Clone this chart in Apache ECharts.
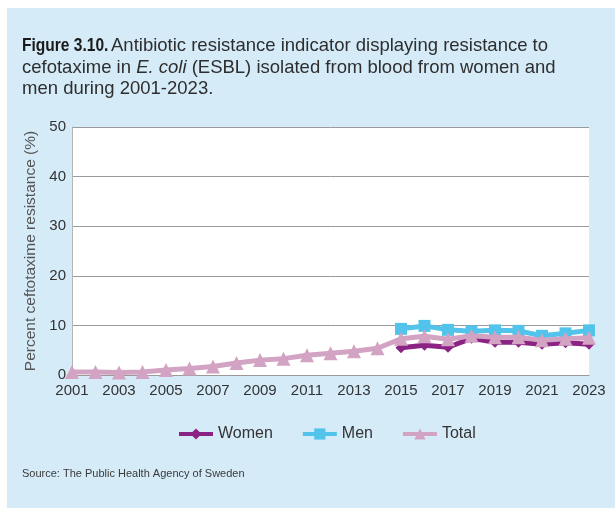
<!DOCTYPE html>
<html>
<head>
<meta charset="utf-8">
<script src="https://cdn.jsdelivr.net/npm/echarts@6/dist/echarts.min.js"></script>
<style>
  html, body { margin: 0; padding: 0; background: #ffffff; }
  #chart { width: 615px; height: 508px; }
</style>
</head>
<body>
<div id="chart"></div>
<script>
// Years on the x-axis
const years = ['2001','2002','2003','2004','2005','2006','2007','2008','2009','2010','2011','2012',
  '2013','2014','2015','2016','2017','2018','2019','2020','2021','2022','2023'];

// Resistance to cefotaxime (%), by sex; sex-specific figures start in 2015
const women = [null,null,null,null,null,null,null,null,null,null,null,null,null,null,
  5.5, 6.0, 5.6, 7.4, 6.6, 6.6, 6.2, 6.5, 6.2];
const men = [null,null,null,null,null,null,null,null,null,null,null,null,null,null,
  9.3, 9.9, 9.1, 8.8, 9.0, 8.9, 7.9, 8.4, 9.0];
const total = [0.6, 0.6, 0.5, 0.6, 1.0, 1.3, 1.7, 2.4, 3.0, 3.3, 4.0, 4.4, 4.8, 5.4,
  7.3, 7.8, 7.2, 7.9, 7.6, 7.6, 7.0, 7.3, 7.5];

const yTicks = [0, 10, 20, 30, 40, 50];

const COL_WOMEN = '#8a2383';
const COL_MEN = '#52c3ea';
const COL_TOTAL = '#d3a3c3';
const PANEL = '#d5ebf8';
const FONT = '"Liberation Sans", Arial, sans-serif';

const chart = echarts.init(document.getElementById('chart'), null, { renderer: 'canvas' });

function lineSeries(name, data, color, symbol, size, z) {
  return {
    name, type: 'line', data, z,
    symbol, symbolSize: size, showSymbol: true,
    connectNulls: false,
    lineStyle: { color, width: 5 },
    itemStyle: { color },
    emphasis: { disabled: true }
  };
}

chart.setOption({
  animation: false,
  backgroundColor: '#ffffff',
  graphic: [
    { type: 'rect', left: 7, top: 8, z: -10, silent: true,
      shape: { width: 608, height: 500 }, style: { fill: PANEL } },
    // Caption: condensed bold figure number, then the description
    { type: 'text', x: 22, y: 36, scaleX: 0.84, silent: true,
      style: { text: 'Figure 3.10.', fill: '#1a1a1a', font: 'bold 18.5px ' + FONT } },
    { type: 'text', x: 111, y: 36, silent: true,
      style: { text: 'Antibiotic resistance indicator displaying resistance to',
        fill: '#2e2e2e', font: '18.5px ' + FONT } },
    { type: 'text', x: 22, y: 57, silent: true,
      style: {
        text: 'cefotaxime in {i|E. coli} (ESBL) isolated from blood from women and\nmen during 2001-2023.',
        fill: '#2e2e2e', font: '18.5px ' + FONT, lineHeight: 21,
        rich: { i: { fontStyle: 'italic', fontSize: 18.5, fontFamily: FONT, fill: '#2e2e2e', lineHeight: 21 } }
      } },
    { type: 'text', left: 22, top: 468, silent: true,
      style: { text: 'Source: The Public Health Agency of Sweden', fill: '#3a3a3a',
        font: '11px ' + FONT } }
  ],
  grid: { left: 72, right: 26, top: 127, bottom: 133, show: true,
          backgroundColor: '#ffffff', borderWidth: 0 },
  legend: {
    bottom: 61, left: 172,
    itemWidth: 34, itemHeight: 14, itemGap: 28,
    lineStyle: { width: 4 },
    textStyle: { color: '#333', fontSize: 16, fontFamily: FONT },
    data: ['Women', 'Men', 'Total']
  },
  xAxis: {
    type: 'category', data: years, boundaryGap: false,
    axisLine: { show: true, lineStyle: { color: '#9a9a9a', width: 1 } },
    axisTick: { show: false },
    axisLabel: { interval: 1, color: '#333', fontSize: 15, margin: 8, fontFamily: FONT },
    splitLine: { show: false }
  },
  yAxis: {
    type: 'value', min: yTicks[0], max: yTicks[yTicks.length - 1], interval: 10,
    name: 'Percent ceftotaxime resistance (%)', nameLocation: 'middle', nameGap: 26,
    nameRotate: 90,
    nameTextStyle: { color: '#555', fontSize: 15.5, fontFamily: FONT },
    axisLine: { show: true, lineStyle: { color: '#b5b5b5', width: 1 } },
    axisTick: { show: false },
    axisLabel: { color: '#333', fontSize: 15, margin: 6, fontFamily: FONT },
    splitLine: { show: true, lineStyle: { color: '#9a9a9a', width: 1 } }
  },
  series: [
    lineSeries('Women', women, COL_WOMEN, 'diamond', 11, 2),
    lineSeries('Men', men, COL_MEN, 'rect', 12, 3),
    lineSeries('Total', total, COL_TOTAL, 'triangle', 14, 4)
  ]
});
</script>
</body>
</html>
